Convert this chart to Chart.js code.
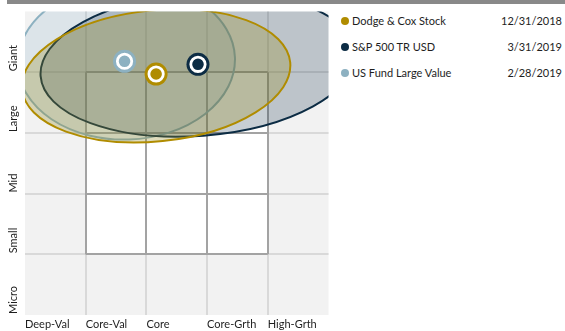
<!DOCTYPE html>
<html>
<head>
<meta charset="utf-8">
<script src="https://cdn.jsdelivr.net/npm/chart.js@4.4.1/dist/chart.umd.min.js"></script>
<style>
  body { margin: 0; background: #fff; font-family: Lato, sans-serif; }
  #wrap { position: relative; width: 565px; height: 331px; overflow: hidden; }
  #topBar { position: absolute; left: 7px; right: 0; top: 0; height: 4px; background: #898989; }
  #styleChart { position: absolute; left: 0; top: 0; }
  #legend { position: absolute; left: 340px; top: 14px; width: 222px; font-size: 11px; color: #1e1e1e; }
  .legend-row { position: relative; height: 26px; line-height: 14px; }
  .legend-dot { position: absolute; left: 1px; top: 3px; width: 8px; height: 8px; border-radius: 50%; }
  .legend-name { position: absolute; left: 12px; top: 0; }
  .legend-date { position: absolute; right: 0; top: 0; }
</style>
</head>
<body>
<div id="wrap">
  <div id="topBar"></div>
  <canvas id="styleChart" width="340" height="331"></canvas>
  <div id="legend"></div>
</div>
<script>
// style axis (value -> growth) and size axis (micro -> giant)
const styleLabels = ['Deep-Val', 'Core-Val', 'Core', 'Core-Grth', 'High-Grth'];
const sizeLabels = ['Micro', 'Small', 'Mid', 'Large', 'Giant'];

const fundNames = ['Dodge & Cox Stock', 'S&P 500 TR USD', 'US Fund Large Value'];
const fundDates = ['12/31/2018', '3/31/2019', '2/28/2019'];
const fundColors = ['#b08c00', '#0c2c44', '#8db1c1'];

// centroid of each holding set
const centroidStyle = [2.16, 2.85, 1.64];
const centroidSize = [3.97, 4.13, 4.18];

// ownership zones
const zoneStyle = [2.16, 2.85, 1.67];
const zoneSize = [3.94, 4.13, 4.18];
const zoneStyleRadius = [2.22, 2.6, 1.79];
const zoneSizeRadius = [1.08, 1.18, 1.29];
const zoneTilt = [5.8, 4.3, 2];

const zoneFill = ['rgba(150,140,35,0.3)', 'rgba(12,44,68,0.23)', 'rgba(137,177,200,0.2)'];

function buildLegend() {
  const legend = document.getElementById('legend');
  fundNames.forEach((name, i) => {
    const row = document.createElement('div');
    row.className = 'legend-row';
    row.innerHTML = `
      <span class="legend-dot" style="background:${fundColors[i]}"></span>
      <span class="legend-name">${name}</span>
      <span class="legend-date">${fundDates[i]}</span>
    `;
    legend.appendChild(row);
  });
}

// grey field, white 3x3 box in the middle, zones on top
const boxPlugin = {
  id: 'styleBox',
  beforeDraw(chart) {
    const { ctx, chartArea: a, scales: { x, y } } = chart;
    ctx.save();
    ctx.fillStyle = '#f2f2f2';
    ctx.fillRect(a.left, a.top, a.right - a.left, a.bottom - a.top);
    ctx.fillStyle = '#ffffff';
    ctx.fillRect(x.getPixelForValue(1), y.getPixelForValue(4),
      x.getPixelForValue(4) - x.getPixelForValue(1), y.getPixelForValue(1) - y.getPixelForValue(4));
    ctx.restore();
  },
  beforeDatasetsDraw(chart) {
    const { ctx, chartArea: a, scales: { x, y } } = chart;
    ctx.save();
    ctx.strokeStyle = '#a3a3a3';
    ctx.lineWidth = 2;
    ctx.beginPath();
    for (let v = 1; v <= 4; v++) {
      const px = Math.round(x.getPixelForValue(v));
      ctx.moveTo(px, y.getPixelForValue(4));
      ctx.lineTo(px, y.getPixelForValue(1));
      const py = Math.round(y.getPixelForValue(v));
      ctx.moveTo(x.getPixelForValue(1), py);
      ctx.lineTo(x.getPixelForValue(4), py);
    }
    ctx.stroke();

    // ownership zones, clipped to the plot; category average at the back
    ctx.beginPath();
    ctx.rect(a.left, a.top, a.right - a.left, a.bottom - a.top);
    ctx.clip();
    const unitX = x.getPixelForValue(1) - x.getPixelForValue(0);
    const unitY = y.getPixelForValue(0) - y.getPixelForValue(1);
    for (let i = zoneStyle.length - 1; i >= 0; i--) {
      ctx.beginPath();
      ctx.ellipse(x.getPixelForValue(zoneStyle[i]), y.getPixelForValue(zoneSize[i]),
        zoneStyleRadius[i] * unitX, zoneSizeRadius[i] * unitY,
        -zoneTilt[i] * Math.PI / 180, 0, Math.PI * 2);
      ctx.fillStyle = zoneFill[i];
      ctx.fill();
      ctx.lineWidth = 2;
      ctx.strokeStyle = fundColors[i];
      ctx.stroke();
    }
    ctx.restore();

    // size labels, rotated, ending at the lower edge of each row
    ctx.save();
    ctx.fillStyle = '#1e1e1e';
    ctx.font = '11px Lato, sans-serif';
    ctx.textAlign = 'left';
    ctx.textBaseline = 'middle';
    sizeLabels.forEach((label, i) => {
      ctx.save();
      ctx.translate(13, y.getPixelForValue(i) - 1);
      ctx.rotate(-Math.PI / 2);
      ctx.fillText(label, 0, 0);
      ctx.restore();
    });
    ctx.restore();
  }
};

const centroids = centroidStyle.map((sx, i) => ({ x: sx, y: centroidSize[i] }));

const chart = new Chart(document.getElementById('styleChart'), {
  type: 'scatter',
  data: {
    datasets: [
      {
        data: centroids,
        pointRadius: 11.5,
        pointHoverRadius: 11.5,
        pointBackgroundColor: fundColors,
        pointBorderWidth: 0,
        order: 2
      },
      {
        data: centroids,
        pointRadius: 7.2,
        pointHoverRadius: 7.2,
        pointBackgroundColor: fundColors,
        pointBorderColor: '#ffffff',
        pointBorderWidth: 2.8,
        order: 1
      }
    ]
  },
  options: {
    responsive: false,
    animation: false,
    layout: { padding: { top: 9, right: 10 } },
    plugins: { legend: { display: false }, tooltip: { enabled: false } },
    scales: {
      x: {
        min: 0,
        max: 5,
        ticks: {
          stepSize: 1,
          align: 'start',
          padding: 3,
          color: '#1e1e1e',
          font: { family: 'Lato', size: 11 },
          callback: v => styleLabels[v] || ''
        },
        grid: {
          drawTicks: false,
          color: c => (c.tick && c.tick.value > 0 && c.tick.value < 5) ? '#d9d9d9' : 'rgba(0,0,0,0)',
          lineWidth: 2
        },
        border: { display: false },
        afterFit: scale => { scale.height = 16; }
      },
      y: {
        min: 0,
        max: 5,
        ticks: { stepSize: 1, display: false },
        grid: {
          drawTicks: false,
          color: c => (c.tick && c.tick.value > 0 && c.tick.value < 5) ? '#d9d9d9' : 'rgba(0,0,0,0)',
          lineWidth: 2
        },
        border: { display: false },
        afterFit: scale => { scale.width = 25; }
      }
    }
  },
  plugins: [boxPlugin]
});

buildLegend();
</script>
</body>
</html>
